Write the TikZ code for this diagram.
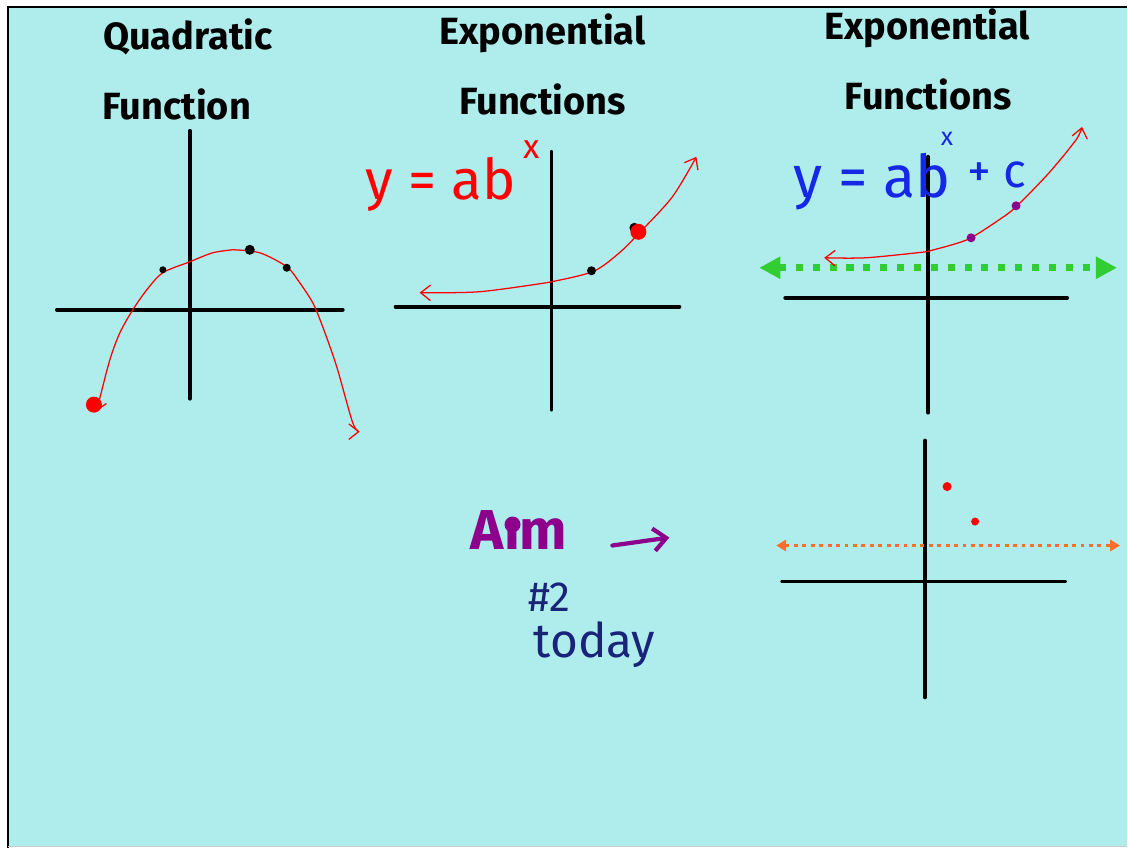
\documentclass[tikz,border=0pt]{standalone}
\usepackage{fontspec}
\setmainfont{Fira Sans}
\usetikzlibrary{arrows.meta}

\definecolor{board}{RGB}{175,237,237}
\definecolor{aimpurple}{RGB}{140,0,140}
\definecolor{inkblue}{RGB}{25,35,120}
\definecolor{penblue}{RGB}{20,40,230}
\definecolor{dotgreen}{RGB}{50,205,50}
\definecolor{dotorange}{RGB}{255,110,40}

\begin{document}
\begin{tikzpicture}[x=0.025cm, y=-0.025cm,
    axis/.style={line width=2.8pt, line cap=round},
    curve/.style={red, line width=0.9pt},
    barb/.style={-{Straight Barb[length=7pt,width=11pt]}},
    title/.style={font=\fontsize{27}{30}\selectfont\bfseries, inner sep=0pt},
    hand/.style={font=\fontsize{34}{40}\selectfont\mdseries, inner sep=0pt}]

    % Board
    \fill[white] (0,0) rectangle (1128,849);
    \fill[board] (8,7) rectangle (1128,847);
    \draw[line width=1.5pt] (8,849) -- (8,7) -- (1128,7);
    \draw[gray!40, line width=1pt] (8,847) -- (1128,847);

    % Titles
    \node[title] (quadA) at (188,37) {Quadratic};
    \node[title] (quadB) at (177,105) {Function};
    \node[title] (expA) at (543,33) {Exponential};
    \node[title] (expB) at (543,100) {Functions};
    \node[title] (shiftA) at (928,28) {Exponential};
    \node[title] (shiftB) at (929,95) {Functions};

    % Quadratic graph
    \draw[axis] (57,310) -- (343,310);
    \draw[axis] (190,131) -- (190,399);
    \draw[curve, barb] plot[smooth] coordinates {(233,250) (260,253) (287,267) (300,283) (313,303) (323,327) (337,367) (353,423) (360,432)};
    \draw[curve, barb] plot[smooth] coordinates {(233,250) (213,253) (190,262) (163,273) (147,290) (133,310) (120,333) (110,360) (100,398) (96,412)};
    \fill (163,270) circle (3.5);
    \fill (250,250) circle (5);
    \fill (287,268) circle (4);
    \fill[red] (94,405) circle (8);

    % Exponential graph
    \draw[axis] (396,307) -- (680,307);
    \draw[axis] (552,152) -- (552,410);
    \draw[curve, barb] plot[smooth] coordinates {(547,283) (480,292) (420,293)};
    \draw[curve, barb] plot[smooth] coordinates {(547,283) (593,272) (620,253) (640,233) (673,197) (697,157)};
    \fill (592,271) circle (4.5);
    \fill (635,228) circle (5);
    \fill[red] (639,232) circle (8);
    \node[hand, red, font=\fontsize{40}{44}\selectfont, anchor=base west] (formA) at (366,200) {y = ab};
    \node[hand, red, font=\fontsize{24}{26}\selectfont] (formAx) at (532,150) {x};

    % Shifted exponential graph
    \draw[axis] (786,298) -- (1068,298);
    \draw[axis] (929,157) -- (929,413);
    \draw[dotgreen, line width=5pt, dash pattern=on 5pt off 7pt,
          {Triangle[length=15pt,width=15pt]}-{Triangle[length=15pt,width=15pt]}] (760,268) -- (1118,268);
    \draw[curve, barb] plot[smooth] coordinates {(927,252) (867,258) (825,258)};
    \draw[curve, barb] plot[smooth] coordinates {(927,252) (953,245) (972,238) (1000,220) (1017,207) (1050,173) (1077,140) (1083,127)};
    \fill[aimpurple] (972,238) circle (4.5);
    \fill[aimpurple] (1017,206) circle (4.5);
    \node[hand, penblue, font=\fontsize{42}{48}\selectfont, anchor=base west] (formB) at (794,198) {y = ab};
    \node[hand, penblue, font=\fontsize{18}{20}\selectfont] (formBx) at (948,139) {x};
    \node[hand, penblue, anchor=base west] (formBc) at (968,188) {+ c};

    % Asymptote sketch
    \draw[axis] (783,582) -- (1066,582);
    \draw[axis] (926,441) -- (926,698);
    \draw[dotorange, line width=2.8pt, dash pattern=on 2.8pt off 3.2pt,
          {Triangle[length=7pt,width=8pt]}-{Triangle[length=7pt,width=8pt]}] (777,546) -- (1121,546);
    \fill[red] (948,487) circle (4.5);
    \fill[red] (976,522) circle (4);

    % Aim
    \node[aimpurple, font=\fontsize{40}{46}\selectfont\bfseries, inner sep=0pt, anchor=base west] (aim) at (471,550) {Aım};
    \fill[aimpurple] (513,525) circle (8);
    \coordinate (aimL) at (613,546);
    \coordinate (aimR) at (670,538);
    \draw[aimpurple, line width=3pt, line cap=round, -{Straight Barb[length=9pt,width=16pt]}] (aimL) -- (aimR);
    \node[hand, inkblue, font=\fontsize{30}{34}\selectfont, anchor=base] (aimNo) at (550,612) {\#2};
    \node[hand, inkblue, anchor=base] (aimDay) at (595,658) {today};
\end{tikzpicture}
\end{document}
